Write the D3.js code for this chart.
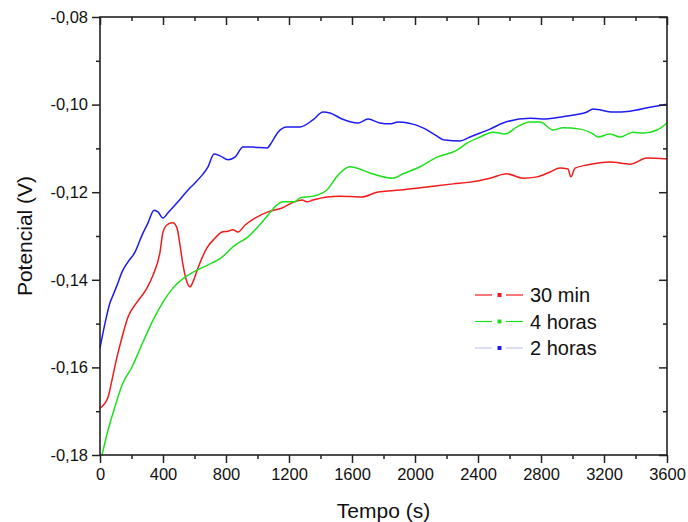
<!DOCTYPE html>
<html>
<head>
<meta charset="utf-8">
<script src="https://cdn.jsdelivr.net/npm/d3@7"></script>
<style>
  body { margin: 0; background: #fff; }
  svg { font-family: "Liberation Sans", Arial, sans-serif; }
</style>
</head>
<body>
<svg width="688" height="522"></svg>
<script>
// time (s) and potential (V)
var t30 = [0,51,76,108,140,178,235,298,337,381,400,432,463,489,508,527,552,571,590,622,679,730,775,813,844,876,921,984,1067,1156,1232,1283,1314,1352,1441,1524,1663,1759,1905,2076,2241,2349,2476,2584,2686,2775,2857,2921,2971,2990,3016,3092,3238,3365,3473,3600];
var v30 = [-0.1693,-0.1668,-0.1629,-0.1576,-0.1531,-0.1485,-0.1451,-0.1419,-0.1389,-0.1337,-0.1291,-0.1273,-0.1270,-0.1282,-0.1321,-0.1366,-0.1405,-0.1416,-0.1405,-0.1373,-0.1327,-0.1305,-0.1291,-0.1289,-0.1286,-0.1291,-0.1275,-0.1259,-0.1245,-0.1236,-0.1222,-0.1218,-0.1222,-0.1218,-0.1211,-0.1209,-0.1211,-0.1200,-0.1195,-0.1188,-0.1181,-0.1177,-0.1168,-0.1158,-0.1168,-0.1165,-0.1154,-0.1145,-0.1147,-0.1165,-0.1145,-0.1138,-0.1131,-0.1136,-0.1122,-0.1124];

var t4h = [13,51,95,140,203,273,337,400,463,540,603,686,775,857,940,1003,1067,1124,1162,1238,1270,1352,1441,1511,1587,1714,1778,1860,1924,2032,2140,2267,2330,2413,2495,2571,2648,2730,2794,2876,2940,3048,3130,3162,3238,3302,3384,3448,3537,3600];
var v4h = [-0.1800,-0.1743,-0.1690,-0.1640,-0.1599,-0.1542,-0.1492,-0.1451,-0.1419,-0.1394,-0.1380,-0.1366,-0.1348,-0.1321,-0.1302,-0.1279,-0.1252,-0.1229,-0.1222,-0.1222,-0.1213,-0.1209,-0.1195,-0.1161,-0.1142,-0.1156,-0.1163,-0.1168,-0.1158,-0.1142,-0.1120,-0.1104,-0.1088,-0.1074,-0.1063,-0.1067,-0.1051,-0.1040,-0.1040,-0.1058,-0.1053,-0.1056,-0.1067,-0.1074,-0.1067,-0.1074,-0.1063,-0.1065,-0.1058,-0.1042];

var t2h = [0,32,63,83,114,140,178,222,267,305,343,368,400,432,495,559,603,648,686,724,762,813,857,908,965,1060,1092,1130,1187,1270,1352,1416,1460,1537,1638,1702,1778,1841,1892,1956,2051,2127,2190,2286,2349,2413,2476,2559,2730,2806,2965,3092,3130,3257,3365,3492,3600];
var v2h = [-0.1556,-0.1499,-0.1453,-0.1435,-0.1407,-0.1382,-0.1359,-0.1337,-0.1298,-0.1270,-0.1241,-0.1245,-0.1259,-0.1247,-0.1222,-0.1195,-0.1179,-0.1161,-0.1142,-0.1113,-0.1117,-0.1126,-0.1120,-0.1097,-0.1097,-0.1099,-0.1085,-0.1063,-0.1051,-0.1051,-0.1035,-0.1017,-0.1019,-0.1033,-0.1042,-0.1033,-0.1042,-0.1044,-0.1040,-0.1042,-0.1053,-0.1069,-0.1081,-0.1083,-0.1074,-0.1065,-0.1056,-0.1042,-0.1031,-0.1033,-0.1026,-0.1017,-0.1010,-0.1017,-0.1015,-0.1006,-0.0999];

var seriesNames = ["30 min", "4 horas", "2 horas"];
var xTicks = [0,400,800,1200,1600,2000,2400,2800,3200,3600];
var yTicks = [-0.18,-0.16,-0.14,-0.12,-0.10,-0.08];

var svg = d3.select("svg");
var mLeft = 100, mRight = 667, mTop = 17, mBottom = 455; // plot frame

var x = d3.scaleLinear().domain([0, 3600]).range([mLeft, mRight]);
var y = d3.scaleLinear().domain([-0.18, -0.08]).range([mBottom, mTop]);

var comma = function(d) { return d3.format(".2f")(d).replace(".", ",").replace("−", "-"); };

var series = [
  {name: seriesNames[0], t: t30, v: v30, color: "#f01c1c", legendLine: "#f01c1c", dot: "#f01c1c"},
  {name: seriesNames[1], t: t4h, v: v4h, color: "#1de01d", legendLine: "#1de01d", dot: "#1de01d"},
  {name: seriesNames[2], t: t2h, v: v2h, color: "#1c1cf0", legendLine: "#c4c4f8", dot: "#1c1cf0"}
];

var line = d3.line()
    .x(function(d) { return x(d[0]); })
    .y(function(d) { return y(d[1]); })
    .curve(d3.curveMonotoneX);

// curves
svg.append("g").selectAll("path")
  .data(series)
  .enter().append("path")
    .attr("fill", "none")
    .attr("stroke", function(d) { return d.color; })
    .attr("stroke-width", 1.5)
    .attr("d", function(d) { return line(d.t.map(function(tt, i) { return [tt, d.v[i]]; })); });

var axisColor = "#222";
var minorX = d3.range(200, 3600, 400);
var minorY = d3.range(-0.17, -0.08, 0.02);

// left axis, outward ticks
svg.append("g").attr("transform", "translate(" + mLeft + ",0)")
  .call(d3.axisLeft(y).tickValues(yTicks).tickFormat(comma).tickSize(8).tickPadding(4));
svg.append("g").attr("transform", "translate(" + mLeft + ",0)")
  .call(d3.axisLeft(y).tickValues(minorY).tickFormat("").tickSize(4));

// bottom axis, outward ticks
svg.append("g").attr("transform", "translate(0," + mBottom + ")")
  .call(d3.axisBottom(x).tickValues(xTicks).tickFormat(d3.format("d")).tickSize(8).tickPadding(5));
svg.append("g").attr("transform", "translate(0," + mBottom + ")")
  .call(d3.axisBottom(x).tickValues(minorX).tickFormat("").tickSize(4));

// top & right, inward ticks
svg.append("g").attr("transform", "translate(0," + mTop + ")")
  .call(d3.axisBottom(x).tickValues(xTicks).tickFormat("").tickSize(8));
svg.append("g").attr("transform", "translate(0," + mTop + ")")
  .call(d3.axisBottom(x).tickValues(minorX).tickFormat("").tickSize(4));
svg.append("g").attr("transform", "translate(" + mRight + ",0)")
  .call(d3.axisLeft(y).tickValues(yTicks).tickFormat("").tickSize(8));
svg.append("g").attr("transform", "translate(" + mRight + ",0)")
  .call(d3.axisLeft(y).tickValues(minorY).tickFormat("").tickSize(4));

svg.selectAll(".domain").remove();
svg.selectAll(".tick line").attr("stroke", axisColor).attr("stroke-width", 1.5);
svg.selectAll(".tick text").attr("fill", "#111").style("font-size", "16.5px");

// frame
svg.append("rect")
    .attr("x", mLeft).attr("y", mTop)
    .attr("width", mRight - mLeft).attr("height", mBottom - mTop)
    .attr("fill", "none").attr("stroke", axisColor).attr("stroke-width", 1.6);

// axis titles
svg.append("text")
    .attr("x", (mLeft + mRight) / 2).attr("y", 518)
    .attr("text-anchor", "middle")
    .style("font-size", "21px").attr("fill", "#111")
    .text("Tempo (s)");
svg.append("text")
    .attr("transform", "translate(32," + ((mTop + mBottom) / 2) + ") rotate(-90)")
    .attr("text-anchor", "middle")
    .style("font-size", "21px").attr("fill", "#111")
    .text("Potencial (V)");

// legend
var legend = svg.append("g").selectAll("g")
  .data(series)
  .enter().append("g")
    .attr("transform", function(d, i) { return "translate(475," + (295 + i * 26.5) + ")"; });
legend.append("line").attr("x1", 0).attr("x2", 17)
    .attr("stroke", function(d) { return d.legendLine; }).attr("stroke-width", 1.2);
legend.append("line").attr("x1", 31).attr("x2", 48)
    .attr("stroke", function(d) { return d.legendLine; }).attr("stroke-width", 1.2);
legend.append("rect").attr("x", 22.5).attr("y", -2).attr("width", 4).attr("height", 4)
    .attr("fill", function(d) { return d.dot; });
legend.append("text")
    .attr("x", 55).attr("y", 7)
    .style("font-size", "20px").attr("fill", "#111")
    .text(function(d) { return d.name; });
</script>
</body>
</html>
